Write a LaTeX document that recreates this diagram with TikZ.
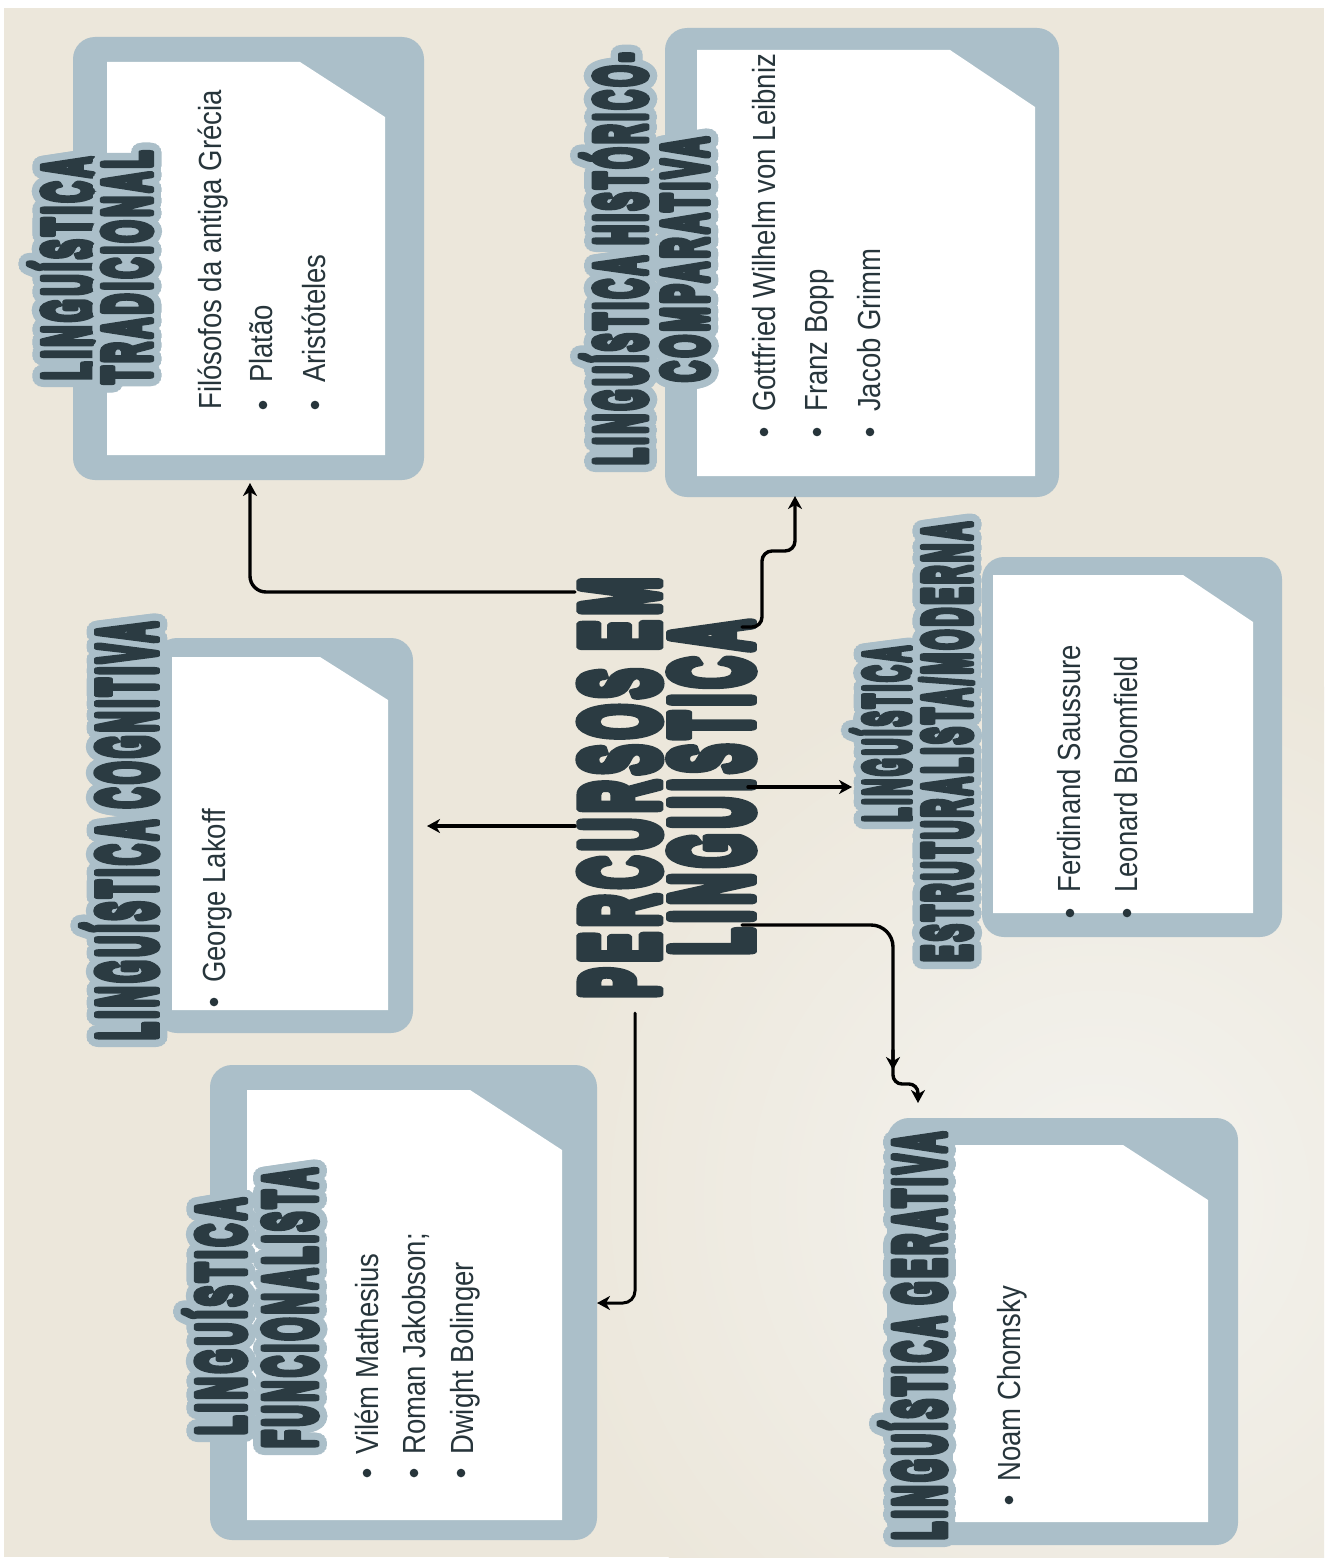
\documentclass[tikz,border=0pt]{standalone}
\usepackage{fontspec}
\usepackage{graphicx}
\usetikzlibrary{arrows.meta,calc}

\newfontfamily\itemfont{Liberation Sans}[FakeStretch=0.86]
\newfontfamily\headfont{Liberation Sans}[UprightFont={* Bold},FakeBold=12,LetterSpace=13]

\definecolor{paperbg}{HTML}{ECE7DB}
\definecolor{paperlight}{HTML}{F4F3EF}
\definecolor{frame}{HTML}{ABBFC9}
\definecolor{ink}{HTML}{2B3B42}

\newlength\capht
% Heavy condensed caps: scaled to a given length and cap height
\newcommand\fitcaps[3]{{\headfont\settoheight{\capht}{H}%
  \resizebox{#1pt}{#2pt}{\raisebox{0pt}[\capht][0pt]{#3}}}}

\tikzset{
  boxframe/.style={fill=frame, rounded corners=22pt, inner sep=0pt},
  sheet/.style={fill=white},
  headtxt/.style={inner sep=0pt, rotate=90, anchor=base west, line join=round},
  item/.style={inner sep=0pt, rotate=90, anchor=base west, text=ink!90!black,
    font=\itemfont\fontsize{32}{36}\selectfont},
  dot/.style={fill=ink!90!black},
  conn/.style={draw=black, line width=3.4pt, line cap=round,
    -{Stealth[length=13pt,width=14pt,inset=4pt]}},
}

% Title line with a soft outline halo: name, baseline x, start y, length, cap height, text
\newcommand\haloline[6]{%
  \foreach \ang [count=\k] in {0,22.5,...,337.5}{%
    \node[headtxt, text=frame] (#1-h\k) at ($(#2,#3)+(\ang:7.5)$) {\fitcaps{#4}{#5}{#6}};
  }%
  \node[headtxt, text=ink] (#1) at (#2,#3) {\fitcaps{#4}{#5}{#6}};
}

\begin{document}
\begin{tikzpicture}[x=1pt,y=-1pt,line join=round]
% page and textured paper
\fill[white] (0,0) rectangle (1329,1563);
\useasboundingbox (0,0) rectangle (1329,1563);
\fill[paperbg] (4,8) rectangle (1324,1557);
\begin{scope}
  \clip (4,8) rectangle (1324,1557);
  \shade[inner color=paperlight, outer color=paperbg] (1100,1200) circle (560);
\end{scope}

% frames
\node[boxframe, minimum width=351pt, minimum height=443pt] (trad) at (248.5,258.5) {};
\node[boxframe, minimum width=394pt, minimum height=469pt] (hist) at (862,262.5) {};
\node[boxframe, minimum width=300pt, minimum height=380pt] (estr) at (1132,747) {};
\node[boxframe, minimum width=258pt, minimum height=395pt] (cog) at (284,835.5) {};
\node[boxframe, minimum width=387pt, minimum height=475pt] (func) at (403.5,1302.5) {};
\node[boxframe, minimum width=351pt, minimum height=427pt] (ger) at (1062.5,1331.5) {};

% sheets with a cut corner
\fill[sheet] (107,62) -- (300,62) -- (385,117) -- (385,455) -- (107,455) -- cycle;
\fill[sheet] (697,50) -- (950,50) -- (1035,107) -- (1035,476) -- (697,476) -- cycle;
\fill[sheet] (993,575) -- (1183,575) -- (1253,622) -- (1253,913) -- (993,913) -- cycle;
\fill[sheet] (172,657) -- (320,657) -- (388,700) -- (388,1010) -- (172,1010) -- cycle;
\fill[sheet] (247,1090) -- (470,1090) -- (562,1150) -- (562,1520) -- (247,1520) -- cycle;
\fill[sheet] (953,1145) -- (1123,1145) -- (1208,1200) -- (1208,1522) -- (953,1522) -- cycle;

% headings
\haloline{tradA}{92}{380}{223}{48}{LINGUÍSTICA}
\haloline{tradB}{150}{384}{233}{46}{TRADICIONAL}
\haloline{histA}{645}{465}{412}{49}{LINGUÍSTICA HISTÓRICO-}
\haloline{histB}{707}{382}{245}{44}{COMPARATIVA}
\haloline{estrA}{909}{822}{176}{44}{LINGUÍSTICA}
\haloline{estrB}{970}{962}{440}{46}{ESTRUTURALISTA/MODERNA}
\haloline{cogA}{155}{1040}{418}{56}{LINGUÍSTICA COGNITIVA}
\haloline{funcA}{244}{1435}{237}{46}{LINGUÍSTICA}
\haloline{funcB}{315}{1448}{280}{50}{FUNCIONALISTA}
\haloline{gerA}{944}{1540}{408}{49}{LINGUÍSTICA GERATIVA}

% central title
\node[headtxt, text=ink] (mainA) at (657,998) {\fitcaps{420}{74}{PERCURSOS EM}};
\node[headtxt, text=ink] (mainB) at (750,955) {\fitcaps{335}{77}{LINGUISTICA}};

% entries
\node[item] (t1) at (221,410) {Filósofos da antiga Grécia};
\node[item] (t2) at (272,383) {Platão};
\node[item] (t3) at (325,383) {Aristóteles};
\fill[dot] (263,405) circle (4.3);
\fill[dot] (315,405) circle (4.3);

\node[item] (h1) at (775,412) {Gottfried Wilhelm von Leibniz};
\node[item] (h2) at (827,412) {Franz Bopp};
\node[item] (h3) at (880,412) {Jacob Grimm};
\fill[dot] (764,432) circle (4.3);
\fill[dot] (817,432) circle (4.3);
\fill[dot] (870,432) circle (4.3);

\node[item] (e1) at (1080,893) {Ferdinand Saussure};
\node[item] (e2) at (1137,893) {Leonard Bloomfield};
\fill[dot] (1070,913) circle (4.3);
\fill[dot] (1127,913) circle (4.3);

\node[item] (c1) at (225,983) {George Lakoff};
\fill[dot] (214,1002) circle (4.3);

\node[item] (f1) at (378,1455) {Vilém Mathesius};
\node[item] (f2) at (425,1455) {Roman Jakobson;};
\node[item] (f3) at (473,1455) {Dwight Bolinger};
\fill[dot] (367,1473) circle (4.3);
\fill[dot] (414,1473) circle (4.3);
\fill[dot] (461,1473) circle (4.3);

\node[item] (g1) at (1020,1482) {Noam Chomsky};
\fill[dot] (1009,1500) circle (4.3);

% connector ends
\coordinate (sTrad) at (575,592);
\coordinate (eTrad) at (250,483);
\coordinate (sHist) at (742,627);
\coordinate (eHist) at (795,496);
\coordinate (sEstr) at (748,787);
\coordinate (eEstr) at (852,787);
\coordinate (sCog) at (575,826);
\coordinate (eCog) at (427,826);
\coordinate (sFunc) at (635,1013);
\coordinate (eFunc) at (597,1303);
\coordinate (sGer) at (742,925);
\coordinate (eGer) at (918,1103);

% connectors
\draw[conn, rounded corners=16pt] (sTrad) -| (eTrad);
\draw[conn, rounded corners=10pt] (sHist) -- (762,627) -- (762,551) -- (795,551) -- (eHist);
\draw[conn] (sEstr) -- (eEstr);
\draw[conn] (sCog) -- (eCog);
\draw[conn, line width=3pt, rounded corners=12pt] (sFunc) |- (eFunc);
\draw[conn, rounded corners=22pt] (sGer) -- (893,925) -- (893,1070);
\draw[conn, rounded corners=9pt] (893,1050) -- (893,1084) -- (918,1084) -- (eGer);
\end{tikzpicture}
\end{document}
